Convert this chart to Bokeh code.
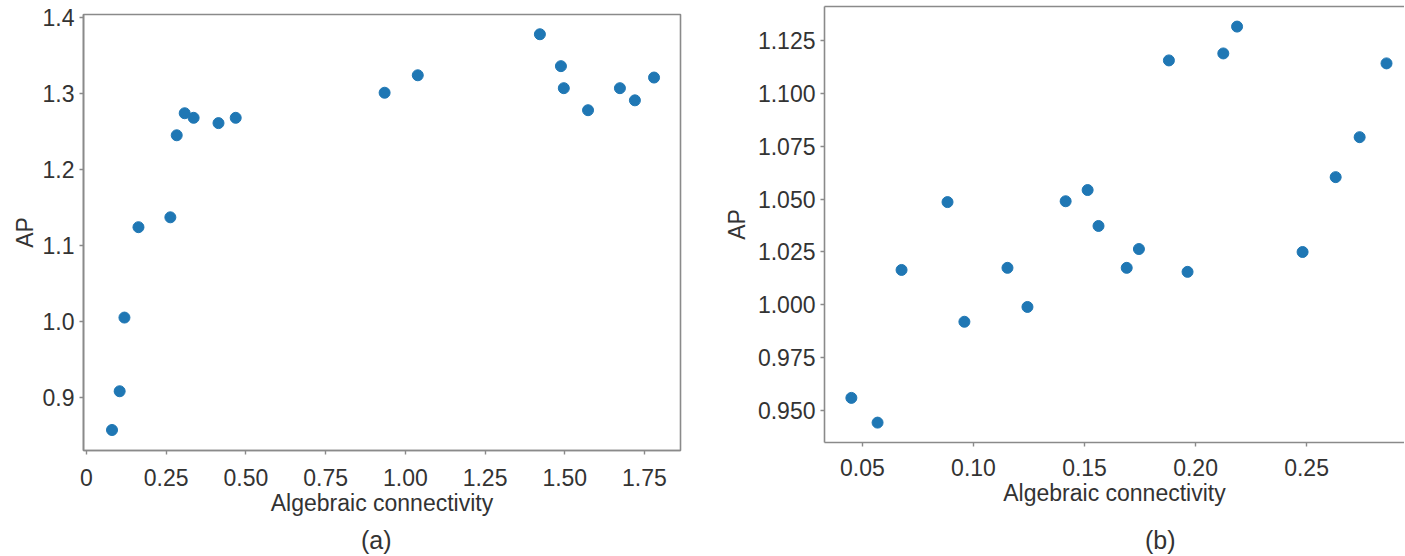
from bokeh.plotting import figure
from bokeh.layouts import row, column
from bokeh.models import FixedTicker, LinearAxis, Range1d, Div
from bokeh.embed import file_html
from bokeh.resources import INLINE

# ---- data (a) ----
a_x = [0.080, 0.104, 0.119, 0.163, 0.263, 0.283, 0.308, 0.336, 0.414, 0.468,
       0.935, 1.039, 1.422, 1.488, 1.497, 1.573, 1.673, 1.720, 1.780]
a_y = [0.857, 0.908, 1.005, 1.124, 1.137, 1.245, 1.274, 1.268, 1.261, 1.268,
       1.301, 1.324, 1.378, 1.336, 1.307, 1.278, 1.307, 1.291, 1.321]
a_xticks = [0, 0.25, 0.5, 0.75, 1.0, 1.25, 1.5, 1.75]
a_xlabels = ["0", "0.25", "0.50", "0.75", "1.00", "1.25", "1.50", "1.75"]
a_yticks = [0.9, 1.0, 1.1, 1.2, 1.3, 1.4]
a_ylabels = ["0.9", "1.0", "1.1", "1.2", "1.3", "1.4"]

# ---- data (b) ----
b_x = [0.045, 0.0568, 0.0676, 0.0883, 0.0959, 0.1153, 0.1243, 0.1415, 0.1514, 0.1563,
       0.1690, 0.1745, 0.1880, 0.1964, 0.2125, 0.2187, 0.2482, 0.2631, 0.2739, 0.2860]
b_y = [0.956, 0.9443, 1.0165, 1.0486, 0.992, 1.0175, 0.999, 1.049, 1.0543, 1.0373,
       1.0175, 1.0264, 1.1156, 1.0156, 1.1189, 1.1316, 1.025, 1.0604, 1.0793, 1.1142]
b_xticks = [0.05, 0.10, 0.15, 0.20, 0.25]
b_xlabels = ["0.05", "0.10", "0.15", "0.20", "0.25"]
b_yticks = [0.950, 0.975, 1.000, 1.025, 1.050, 1.075, 1.100, 1.125]
b_ylabels = ["0.950", "0.975", "1.000", "1.025", "1.050", "1.075", "1.100", "1.125"]

captions = ["(a)", "(b)"]

FONT = "Liberation Sans"
TXT = "#333333"
LINE = "#8a8a8a"
DOT = "#1f77b4"


def style_axis(ax, size="23px"):
    ax.axis_line_color = LINE
    ax.axis_line_width = 1.6
    ax.major_tick_line_color = LINE
    ax.major_tick_line_width = 1.4
    ax.major_tick_out = 4
    ax.major_tick_in = 0
    ax.minor_tick_line_color = None
    ax.major_label_text_font = FONT
    ax.major_label_text_font_size = size
    ax.major_label_text_color = TXT
    ax.axis_label_text_font = FONT
    ax.axis_label_text_font_size = size
    ax.axis_label_text_font_style = "normal"
    ax.axis_label_text_color = TXT


def make(xs, ys, xr, yr, xt, xl, yt, yl, width, height, borders,
         box=True, xstand=6, ystand=5, xlab_stand=2, ylab_stand=5):
    p = figure(width=width, height=height, x_range=Range1d(*xr), y_range=Range1d(*yr),
               output_backend="svg", toolbar_location=None, title=None,
               min_border_left=borders[0], min_border_right=borders[1],
               min_border_top=borders[2], min_border_bottom=borders[3])
    p.grid.visible = False
    p.background_fill_color = "white"
    p.border_fill_color = "white"
    xa = p.below[0]
    ya = p.left[0]
    if box:
        p.outline_line_color = LINE
        p.outline_line_width = 1.6
        p.outline_line_alpha = 1
    else:
        p.outline_line_color = None
        top = LinearAxis(major_tick_line_color=None, minor_tick_line_color=None,
                         major_label_text_font_size="0px", major_label_standoff=0,
                         major_tick_out=0, major_tick_in=0,
                         axis_line_color=LINE, axis_line_width=1.6,
                         ticker=FixedTicker(ticks=[]))
        p.add_layout(top, "above")
    style_axis(xa)
    style_axis(ya)
    xa.ticker = FixedTicker(ticks=xt)
    xa.major_label_overrides = {t: l for t, l in zip(xt, xl)}
    ya.ticker = FixedTicker(ticks=yt)
    ya.major_label_overrides = {t: l for t, l in zip(yt, yl)}
    xa.axis_label = "Algebraic connectivity"
    ya.axis_label = "AP"
    xa.major_label_standoff = xstand
    ya.major_label_standoff = ystand
    xa.axis_label_standoff = xlab_stand
    ya.axis_label_standoff = ylab_stand
    p.scatter(xs, ys, size=11, color=DOT, line_color=DOT, alpha=1)
    return p


def caption_div(text, width, pad_left):
    return Div(text=text, width=width, height=29, margin=0,
               styles={"font-family": FONT, "font-size": "25px", "color": TXT,
                       "padding-left": f"{pad_left}px", "line-height": "29px",
                       "box-sizing": "border-box"})


p1 = make(a_x, a_y, (-0.0094, 1.863), (0.830, 1.404), a_xticks, a_xlabels, a_yticks, a_ylabels,
          702, 526, (83, 22, 14, 76), box=True,
          xstand=14, ystand=5, xlab_stand=1, ylab_stand=2)
p2 = make(b_x, b_y, (0.0329, 0.2941), (0.9349, 1.1411), b_xticks, b_xlabels, b_yticks, b_ylabels,
          702, 526, (122, 0, 6, 84), box=False,
          xstand=12, ystand=5, xlab_stand=1, ylab_stand=5)

d1 = caption_div(captions[0], 702, 361)
d2 = caption_div(captions[1], 702, 443)

layout = column(row(column(p1), column(p2)), row(d1, d2))
open("out.html", "w").write(file_html(layout, INLINE))
